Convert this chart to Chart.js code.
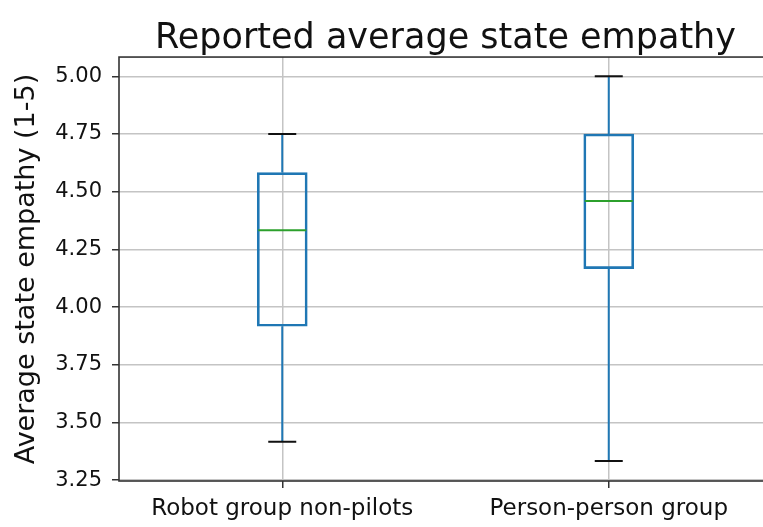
<!DOCTYPE html>
<html>
<head>
<meta charset="utf-8">
<script src="https://cdn.jsdelivr.net/npm/chart.js@4.4.1/dist/chart.umd.min.js"></script>
<style>
  html, body { margin: 0; padding: 0; background: #fff; overflow: hidden; }
  #wrap { width: 790px; height: 527px; position: relative; }
</style>
</head>
<body>
<div id="wrap"><canvas id="chart"></canvas></div>
<script>
// Box-plot summary per group (1-5 empathy scale)
const groups = ['Robot group non-pilots', 'Person-person group'];
const whiskerLow = [3.417, 3.333];
const quartile1 = [3.917, 4.167];
const medians = [4.333, 4.46];
const quartile3 = [4.583, 4.75];
const whiskerHigh = [4.75, 5.0];
const yTicks = [3.25, 3.5, 3.75, 4.0, 4.25, 4.5, 4.75, 5.0];

const FONT = "'DejaVu Sans', sans-serif";
const BLUE = '#1f77b4';
const GREEN = '#2ca02c';
const BOX_PX = 50;

// Whiskers, caps, medians and the frame, drawn on the chart's own scales
const boxParts = {
  id: 'boxParts',
  afterDatasetsDraw(chart) {
    const { ctx, scales: { y }, chartArea } = chart;
    const meta = chart.getDatasetMeta(0);
    ctx.save();
    ctx.lineCap = 'butt';
    meta.data.forEach((bar, i) => {
      const x = bar.x;
      const half = bar.width / 2 - 1;
      const capHalf = bar.width * 0.28;
      const yLo = y.getPixelForValue(whiskerLow[i]);
      const yQ1 = y.getPixelForValue(quartile1[i]);
      const yQ3 = y.getPixelForValue(quartile3[i]);
      const yHi = y.getPixelForValue(whiskerHigh[i]);
      const yMed = y.getPixelForValue(medians[i]);
      // whiskers
      ctx.strokeStyle = BLUE;
      ctx.lineWidth = 2;
      ctx.beginPath();
      ctx.moveTo(x, yQ3); ctx.lineTo(x, yHi);
      ctx.moveTo(x, yQ1); ctx.lineTo(x, yLo);
      ctx.stroke();
      // caps
      ctx.strokeStyle = '#111';
      ctx.beginPath();
      ctx.moveTo(x - capHalf, yHi); ctx.lineTo(x + capHalf, yHi);
      ctx.moveTo(x - capHalf, yLo); ctx.lineTo(x + capHalf, yLo);
      ctx.stroke();
      // median
      ctx.strokeStyle = GREEN;
      ctx.beginPath();
      ctx.moveTo(x - half, yMed); ctx.lineTo(x + half, yMed);
      ctx.stroke();
    });
    // axes frame
    ctx.strokeStyle = '#333';
    ctx.lineWidth = 1.6;
    ctx.strokeRect(chartArea.left, chartArea.top, chartArea.right - chartArea.left, chartArea.bottom - chartArea.top);
    ctx.restore();
  }
};

new Chart(document.getElementById('chart'), {
  type: 'bar',
  data: {
    labels: groups,
    datasets: [{
      data: groups.map((g, i) => [quartile1[i], quartile3[i]]),
      backgroundColor: 'rgba(0,0,0,0)',
      borderColor: BLUE,
      borderWidth: 2,
      borderSkipped: false,
      barThickness: BOX_PX
    }]
  },
  options: {
    responsive: true,
    maintainAspectRatio: false,
    animation: false,
    layout: { padding: { left: 0, right: 18, top: 0, bottom: 0 } },
    plugins: {
      legend: { display: false },
      tooltip: { enabled: false },
      title: {
        display: true,
        fullSize: false,
        text: 'Reported average state empathy',
        color: '#111',
        font: { family: FONT, size: 35, weight: 'normal', lineHeight: 1.03 },
        padding: { top: 21, bottom: 0 }
      }
    },
    scales: {
      x: {
        offset: true,
        grid: { display: true, offset: false, color: '#c4c4c4', lineWidth: 1.5, tickColor: '#333', tickLength: 7, drawTicks: true },
        border: { display: false },
        ticks: { color: '#111', font: { family: FONT, size: 23 }, padding: 7, maxRotation: 0 },
        afterFit(scale) { scale.height = 46; }
      },
      y: {
        min: 3.2465,
        max: 5.0835,
        grid: { color: '#c4c4c4', lineWidth: 1.5, tickColor: '#333', tickLength: 7 },
        border: { display: false },
        afterBuildTicks(scale) { scale.ticks = yTicks.map(v => ({ value: v })); },
        ticks: {
          color: '#111',
          font: { family: FONT, size: 21 },
          padding: 10,
          callback: v => Number(v).toFixed(2)
        },
        title: {
          display: true,
          text: 'Average state empathy (1-5)',
          color: '#111',
          font: { family: FONT, size: 27 },
          padding: { top: 11, bottom: 0 }
        },
        afterFit(scale) { scale.width = 119; }
      }
    }
  },
  plugins: [boxParts]
});
</script>
</body>
</html>
